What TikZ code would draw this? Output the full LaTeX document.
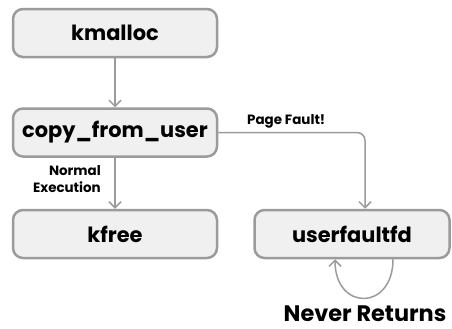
\documentclass[tikz,border=0pt]{standalone}
\usepackage{fontspec}
\setmainfont{Poppins}
\usepackage{tikz}
\usetikzlibrary{arrows.meta, positioning, calc}
\definecolor{boxgray}{RGB}{240, 240, 240}
\definecolor{linegray}{RGB}{155, 155, 155}

\begin{document}
\begin{tikzpicture}[
    node distance=49bp and 35bp,
    fnbox/.style={draw=linegray, fill=boxgray, rounded corners=10pt,
                  minimum width=204bp, minimum height=48bp, font=\fontsize{21}{24}\selectfont\bfseries,
                  align=center, line width=2.5bp, inner sep=0pt},
    arrow/.style={-{Straight Barb[length=6bp, width=12bp]}, line width=1.5bp, color=linegray},
    lbl/.style={font=\fontsize{13.5}{17}\selectfont\bfseries, align=right, inner sep=0pt},
]
    \useasboundingbox (0,0) rectangle (452bp,-329bp);

    % Main path
    \node[fnbox] (kmalloc) at (115bp,-33bp) {kmalloc};
    \node[fnbox, below=of kmalloc] (copy) {copy\_from\_user};
    \node[fnbox, below=51bp of copy] (kfree) {kfree};
    \node[fnbox, right=35bp of kfree, minimum width=195bp] (ufd) {userfaultfd};

    % Arrows
    \draw[arrow] (kmalloc) -- (copy);
    \draw[arrow] (copy) -- (kfree);
    \draw[arrow, rounded corners=8bp] (copy.east) -| ([xshift=13bp]ufd.north);
    \draw[arrow] ([xshift=41bp]ufd.south) .. controls +(0,-52bp) and +(0,-52bp) .. ([xshift=-17bp]ufd.south);

    % Labels
    \node[lbl, anchor=east] at (101bp,-179bp) {Normal\\Execution};
    \node[lbl, anchor=south west] at (247bp,-128bp) {Page Fault!};
    \node[font=\fontsize{22.5}{26}\selectfont\bfseries, inner sep=0pt, anchor=base] at (365bp,-321bp) {Never Returns};
\end{tikzpicture}
\end{document}
